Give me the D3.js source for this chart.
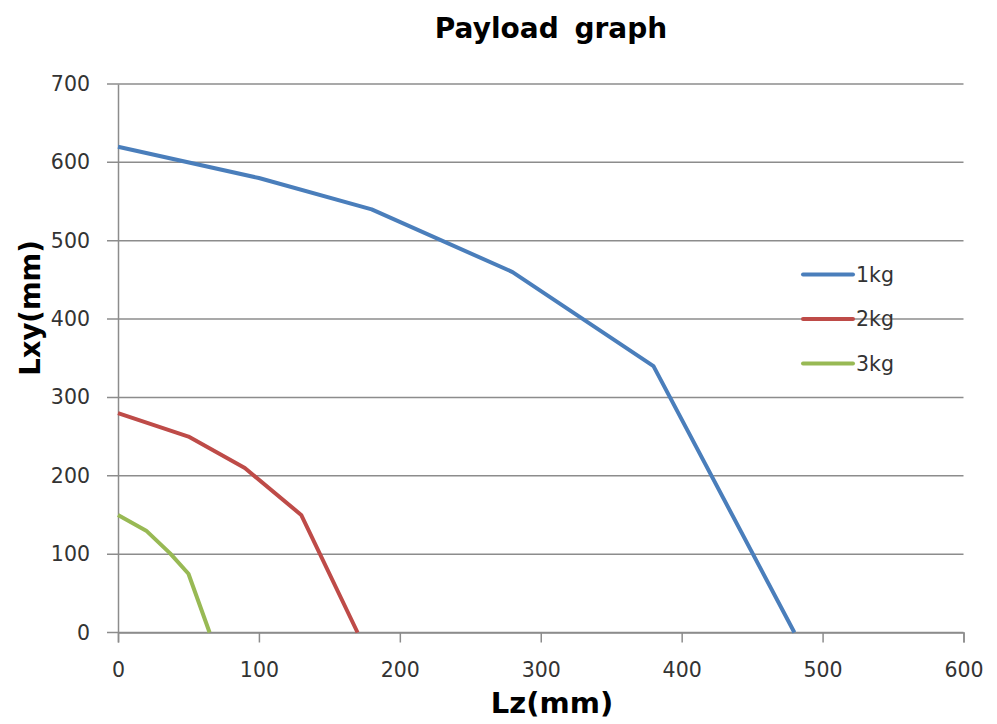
<!DOCTYPE html>
<html>
<head>
<meta charset="utf-8">
<script src="https://cdn.jsdelivr.net/npm/d3@7"></script>
<style>
  html, body { margin: 0; padding: 0; background: #fff; }
  svg { display: block; }
</style>
</head>
<body>
<svg id="chart" width="997" height="724"></svg>
<script>
// ---- data ----
const seriesNames = ["1kg", "2kg", "3kg"];
const lz1 = [0, 100, 180, 280, 380, 480];
const lxy1 = [620, 580, 540, 460, 340, 0];
const lz2 = [0, 50, 90, 130, 170];
const lxy2 = [280, 250, 210, 150, 0];
const lz3 = [0, 20, 37, 50, 65];
const lxy3 = [150, 130, 101, 75, 0];
const xTicks = [0, 100, 200, 300, 400, 500, 600];
const yTicks = [0, 100, 200, 300, 400, 500, 600, 700];
const colors = ["#4A7EBB", "#BE4B48", "#98B954"];

const series = [
  { name: seriesNames[0], pts: lz1.map((x, i) => [x, lxy1[i]]) },
  { name: seriesNames[1], pts: lz2.map((x, i) => [x, lxy2[i]]) },
  { name: seriesNames[2], pts: lz3.map((x, i) => [x, lxy3[i]]) }
];

const svg = d3.select("#chart");
const pLeft = 118, pRight = 963.5, pTop = 84, pBottom = 632.5;
const x = d3.scaleLinear().domain([0, 600]).range([pLeft, pRight]);
const y = d3.scaleLinear().domain([0, 700]).range([pBottom, pTop]);
const font = "'DejaVu Sans', 'Noto Sans', sans-serif";
const gridColor = "#8c8c8c";

// gridlines
svg.append("g").selectAll("line").data(yTicks).join("line")
  .attr("x1", pLeft - 11).attr("x2", pRight)
  .attr("y1", d => y(d)).attr("y2", d => y(d))
  .attr("stroke", gridColor).attr("stroke-width", 1.5);

// y axis
const yAxis = svg.append("g").attr("transform", `translate(${pLeft},0)`)
  .call(d3.axisLeft(y).tickValues(yTicks).tickSize(0).tickPadding(28));
yAxis.select(".domain").attr("stroke", gridColor).attr("stroke-width", 1.5);
yAxis.selectAll("text").attr("font-family", font).attr("font-size", 20.5).attr("fill", "#333");

// x axis
const xAxis = svg.append("g").attr("transform", `translate(0,${pBottom})`)
  .call(d3.axisBottom(x).tickValues(xTicks).tickSize(10).tickPadding(20));
xAxis.select(".domain").attr("stroke", gridColor).attr("stroke-width", 1.5);
xAxis.selectAll(".tick line").attr("stroke", gridColor).attr("stroke-width", 1.5);
xAxis.selectAll("text").attr("font-family", font).attr("font-size", 20.5).attr("fill", "#333");

// lines
const line = d3.line().x(d => x(d[0])).y(d => y(d[1]));
svg.append("g").selectAll("path").data(series).join("path")
  .attr("d", d => line(d.pts))
  .attr("fill", "none")
  .attr("stroke", (d, i) => colors[i])
  .attr("stroke-width", 4)
  .attr("stroke-linejoin", "round");

// legend
const lg = svg.append("g");
const legY = [274.5, 319, 363.5];
series.forEach((s, i) => {
  lg.append("line").attr("x1", 803).attr("x2", 853)
    .attr("y1", legY[i]).attr("y2", legY[i])
    .attr("stroke", colors[i]).attr("stroke-width", 4).attr("stroke-linecap", "round");
  lg.append("text").attr("x", 856).attr("y", legY[i]).attr("dy", "0.35em")
    .attr("font-family", font).attr("font-size", 20.5).attr("fill", "#333")
    .text(s.name);
});

// titles
svg.append("text").attr("x", 551).attr("y", 38).attr("text-anchor", "middle")
  .attr("font-family", font).attr("font-weight", "bold").attr("font-size", 28)
  .attr("word-spacing", 6)
  .attr("fill", "#000").text("Payload graph");
svg.append("text").attr("x", 552).attr("y", 713).attr("text-anchor", "middle")
  .attr("font-family", font).attr("font-weight", "bold").attr("font-size", 29)
  .attr("fill", "#000").text("Lz(mm)");
svg.append("text").attr("transform", "translate(40,308) rotate(-90)")
  .attr("text-anchor", "middle")
  .attr("font-family", font).attr("font-weight", "bold").attr("font-size", 27.5)
  .attr("fill", "#000").text("Lxy(mm)");
</script>
</body>
</html>
